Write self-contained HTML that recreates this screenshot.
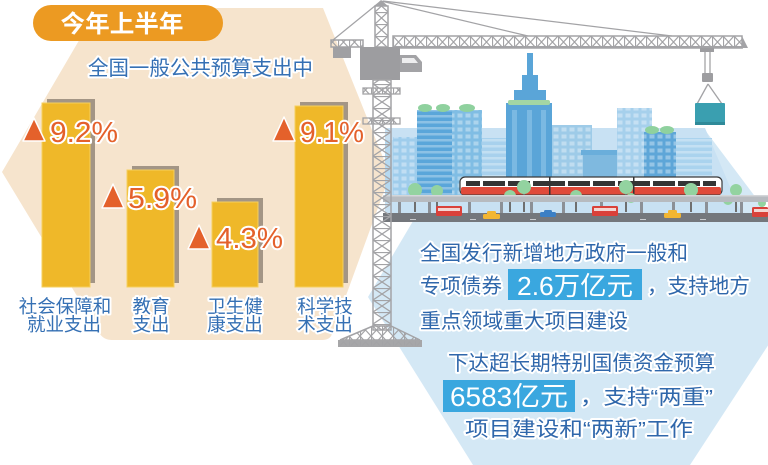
<!DOCTYPE html>
<html><head><meta charset="utf-8"><style>
html,body{margin:0;padding:0;background:#fff;}
svg{display:block}
.cn{font-family:"Liberation Sans","Noto Sans CJK SC",sans-serif;}
.num{font-family:"Liberation Sans","Noto Sans CJK SC",sans-serif;}
.halo{paint-order:stroke;stroke:#fff;stroke-width:4;stroke-linejoin:round;}
</style></head><body>
<svg width="768" height="465" viewBox="0 0 768 465" xmlns="http://www.w3.org/2000/svg">
<defs>
<pattern id="xm" width="18" height="12" patternUnits="userSpaceOnUse" x="373" y="0">
 <path d="M0 0 L18 12 M18 0 L0 12 M0 0.5 H18" stroke="#a3a3a6" stroke-width="1.3" fill="none"/>
</pattern>
<pattern id="xm2" width="13" height="12" patternUnits="userSpaceOnUse" x="375" y="0">
 <path d="M0 0 L13 12 M13 0 L0 12 M0 0.5 H13" stroke="#a3a3a6" stroke-width="1.2" fill="none"/>
</pattern>
<pattern id="xj" width="11" height="12" patternUnits="userSpaceOnUse" x="393" y="36">
 <path d="M0 0 L11 12 M11 0 L0 12 M0.5 0 V12" stroke="#a3a3a6" stroke-width="1.2" fill="none"/>
</pattern>
<pattern id="win" width="8" height="7" patternUnits="userSpaceOnUse">
 <rect x="1.5" y="1.5" width="5" height="4" fill="#ffffff" fill-opacity="0.35"/>
</pattern>
<pattern id="strip" width="6" height="6" patternUnits="userSpaceOnUse">
 <rect x="0" y="1" width="6" height="2.5" fill="#ffffff" fill-opacity="0.3"/>
</pattern>
</defs>

<!-- right blue hexagon -->
<polygon points="467,130 705,130 814,275 690,465 473,465 368,297" fill="#d4e8f5"/>
<!-- city pale backdrop -->
<polygon points="385,128 705,128 745,222 385,222" fill="#c8e1f3"/>

<!-- left beige hexagon -->
<path d="M98,8 L323,8 L390,175 L332,334 Q330,340 322,340 L112,340 Q104,340 100,334 L2,172 Z" fill="#f6e4cd"/>

<!-- pill -->
<rect x="33" y="5" width="190" height="36" rx="18" fill="#ec9a22"/>
<text x="122" y="32" text-anchor="middle" class="cn" font-size="24" font-weight="700" fill="#fff" textLength="123" lengthAdjust="spacingAndGlyphs">今年上半年</text>

<!-- subtitle -->
<text x="88" y="75" class="cn halo" font-size="20.5" fill="#3570b4" textLength="225" lengthAdjust="spacingAndGlyphs">全国一般公共预算支出中</text>

<!-- bars: shadows -->
<g fill="#a39585">
<rect x="47" y="99" width="48" height="184"/>
<rect x="132" y="166" width="47" height="117"/>
<rect x="217" y="198" width="46" height="85"/>
<rect x="300" y="102" width="48" height="181"/>
</g>
<g fill="#efb829" stroke="#f6cf5e" stroke-width="1">
<rect x="42" y="103" width="48" height="184"/>
<rect x="127" y="170" width="47" height="117"/>
<rect x="212" y="202" width="46" height="85"/>
<rect x="295" y="106" width="48" height="181"/>
</g>

<!-- triangles -->
<g fill="#e4612b" stroke="#fff" stroke-width="1.5" stroke-linejoin="round">
<polygon points="23,141 45,141 34,118"/>
<polygon points="102,208 124,208 113,184"/>
<polygon points="188,249 210,249 199,225"/>
<polygon points="273,141 295,141 284,117"/>
</g>
<g class="num halo" font-size="29" fill="#e4612b">
<text x="50" y="142" textLength="68" lengthAdjust="spacingAndGlyphs">9.2%</text>
<text x="128" y="208" textLength="69" lengthAdjust="spacingAndGlyphs">5.9%</text>
<text x="216" y="248" textLength="67" lengthAdjust="spacingAndGlyphs">4.3%</text>
<text x="300" y="142" textLength="64" lengthAdjust="spacingAndGlyphs">9.1%</text>
</g>

<!-- category labels -->
<g class="cn halo" font-size="18.5" fill="#3570b4" text-anchor="middle">
<text x="65" y="313">社会保障和</text>
<text x="64" y="331">就业支出</text>
<text x="151" y="313">教育</text>
<text x="151" y="331">支出</text>
<text x="235" y="313">卫生健</text>
<text x="235" y="331">康支出</text>
<text x="325" y="313">科学技</text>
<text x="325" y="331">术支出</text>
</g>

<!-- city buildings -->
<rect x="385" y="140" width="10" height="60" fill="#b6d9f0"/>
<rect x="393" y="137" width="26" height="63" fill="#9fcdec"/>
<rect x="393" y="137" width="26" height="63" fill="url(#win)"/>
<rect x="417" y="110" width="35" height="90" fill="#5aa6da"/>
<rect x="417" y="110" width="35" height="90" fill="url(#strip)"/>
<ellipse cx="425" cy="108" rx="7" ry="4" fill="#8fd19e"/>
<ellipse cx="443" cy="108" rx="7" ry="4" fill="#8fd19e"/>
<rect x="452" y="110" width="30" height="90" fill="#80bde4"/>
<rect x="452" y="110" width="30" height="90" fill="url(#win)"/>
<ellipse cx="467" cy="108" rx="8" ry="4" fill="#8fd19e"/>
<rect x="482" y="138" width="25" height="62" fill="#a8d1ed"/>
<rect x="482" y="138" width="25" height="62" fill="url(#strip)"/>
<rect x="527" y="53" width="6" height="23" fill="#5aa5d8"/>
<rect x="522" y="75" width="16" height="16" fill="#5aa5d8"/>
<rect x="514" y="90" width="32" height="13" fill="#5aa5d8"/>
<rect x="506" y="103" width="46" height="97" fill="#5aa5d8"/>
<rect x="512" y="110" width="5" height="90" fill="#7bb9e2"/>
<rect x="527" y="110" width="5" height="90" fill="#7bb9e2"/>
<rect x="541" y="110" width="5" height="90" fill="#7bb9e2"/>
<rect x="508" y="100" width="42" height="5" rx="2" fill="#a3d6a4"/>
<rect x="552" y="125" width="40" height="75" fill="#9ecbe8"/>
<rect x="552" y="125" width="40" height="75" fill="url(#win)"/>
<rect x="583" y="152" width="38" height="48" fill="#7fb9df"/>
<rect x="581" y="150" width="42" height="5" fill="#6aaedb"/>
<rect x="617" y="108" width="35" height="92" fill="#a6d0ec"/>
<rect x="617" y="108" width="35" height="92" fill="url(#win)"/>
<rect x="644" y="132" width="32" height="68" fill="#5ea6d8"/>
<rect x="644" y="132" width="32" height="68" fill="url(#win)"/>
<ellipse cx="652" cy="130" rx="7" ry="4" fill="#8fd19e"/>
<ellipse cx="667" cy="130" rx="7" ry="4" fill="#8fd19e"/>
<rect x="676" y="138" width="36" height="62" fill="#aad3ee"/>
<rect x="676" y="138" width="36" height="62" fill="url(#strip)"/>

<!-- train -->
<rect x="460" y="177" width="262" height="18" rx="5" fill="#ffffff" stroke="#3a3a3a" stroke-width="1.2"/>
<rect x="466" y="181" width="250" height="5" fill="#353535"/>
<g fill="#fff">
<rect x="480" y="181" width="3" height="5"/><rect x="505" y="181" width="3" height="5"/><rect x="530" y="181" width="3" height="5"/>
<rect x="565" y="181" width="3" height="5"/><rect x="590" y="181" width="3" height="5"/><rect x="615" y="181" width="3" height="5"/>
<rect x="650" y="181" width="3" height="5"/><rect x="675" y="181" width="3" height="5"/><rect x="700" y="181" width="3" height="5"/>
</g>
<rect x="461" y="187" width="260" height="7.5" rx="2" fill="#e04a3a"/>
<rect x="549" y="177" width="1.5" height="18" fill="#333"/>
<rect x="633" y="177" width="1.5" height="18" fill="#333"/>

<!-- trees -->
<g fill="#6f6f6f">
<rect x="414" y="192" width="2" height="20"/><rect x="436" y="192" width="2" height="20"/>
<rect x="509" y="195" width="2" height="17"/><rect x="523" y="190" width="2" height="22"/>
<rect x="575" y="196" width="2" height="16"/><rect x="625" y="190" width="2" height="22"/>
<rect x="690" y="192" width="2" height="20"/><rect x="735" y="192" width="2" height="20"/>
</g>
<g fill="#93d3a0">
<circle cx="415" cy="190" r="7"/><circle cx="437" cy="191" r="6"/>
<circle cx="510" cy="196" r="6"/><circle cx="524" cy="187" r="7"/>
<circle cx="576" cy="196" r="6"/><circle cx="626" cy="187" r="7"/><circle cx="631" cy="198" r="5"/>
<circle cx="691" cy="190" r="7"/><circle cx="736" cy="190" r="6"/><circle cx="728" cy="200" r="5"/><circle cx="762" cy="203" r="4"/>
</g>

<!-- deck & road -->
<rect x="383" y="195" width="385" height="7" fill="#b7bbc0"/>
<rect x="383" y="195" width="385" height="1.5" fill="#d3d6d9"/>
<g fill="#8c9096">
<rect x="398" y="202" width="3" height="11"/><rect x="428" y="202" width="3" height="11"/><rect x="468" y="202" width="3" height="11"/>
<rect x="500" y="202" width="3" height="11"/><rect x="530" y="202" width="3" height="11"/><rect x="562" y="202" width="3" height="11"/>
<rect x="600" y="202" width="3" height="11"/><rect x="640" y="202" width="3" height="11"/><rect x="672" y="202" width="3" height="11"/>
<rect x="705" y="202" width="3" height="11"/><rect x="740" y="202" width="3" height="11"/>
</g>
<rect x="383" y="213" width="385" height="9" fill="#74777c"/>
<g fill="#c9cbcf"><rect x="410" y="219" width="6" height="1"/><rect x="470" y="219" width="6" height="1"/><rect x="530" y="219" width="6" height="1"/><rect x="640" y="219" width="6" height="1"/><rect x="700" y="219" width="6" height="1"/></g>

<!-- vehicles -->
<g>
<rect x="436" y="206" width="26" height="10" rx="1.5" fill="#d9413a"/><rect x="438" y="208" width="22" height="3" fill="#f3d6d3"/>
<rect x="592" y="206" width="26" height="10" rx="1.5" fill="#d9413a"/><rect x="594" y="208" width="22" height="3" fill="#f3d6d3"/>
<rect x="752" y="207" width="16" height="10" rx="1.5" fill="#d9413a"/><rect x="754" y="209" width="14" height="3" fill="#f3d6d3"/>
<rect x="487" y="211" width="9" height="4" rx="1.5" fill="#f2b632"/><rect x="483" y="214" width="17" height="5" rx="1.5" fill="#f2b632"/>
<rect x="668" y="210" width="9" height="4" rx="1.5" fill="#f2b632"/><rect x="664" y="213" width="17" height="5" rx="1.5" fill="#f2b632"/>
<rect x="544" y="210" width="8" height="3" rx="1.5" fill="#3b7fc4"/><rect x="540" y="212" width="16" height="5" rx="1.5" fill="#3b7fc4"/>
</g>

<!-- crane -->
<g stroke="#a3a3a6" stroke-width="1.2" fill="none">
<line x1="381" y1="1" x2="333" y2="40"/>
<line x1="381" y1="1" x2="528" y2="36"/>
<line x1="383" y1="1" x2="672" y2="36"/>
</g>
<rect x="375" y="6" width="13" height="41" fill="url(#xm2)" stroke="#a3a3a6" stroke-width="1.5"/>
<polygon points="375,6 381,0 388,6" fill="#a3a3a6"/>
<rect x="331" y="40" width="32" height="7" fill="url(#xj)" stroke="#a3a3a6" stroke-width="1.5"/>
<rect x="333" y="47" width="18" height="11" fill="#a0a0a3"/>
<rect x="393" y="36" width="349" height="12" fill="url(#xj)" stroke="#a3a3a6" stroke-width="1.5"/>
<rect x="393" y="46" width="350" height="2.5" fill="#a3a3a6"/>
<polygon points="742,36 748,48 742,48" fill="#a3a3a6"/>
<rect x="360" y="47" width="40" height="33" fill="#9d9da0"/>
<path d="M400,55 L416,55 L422,62 L422,72 L400,72 Z" fill="#a3a3a6"/>
<path d="M402,58 L414,58 L418,63 L402,63 Z" fill="#eeeeef"/>
<rect x="700" y="48" width="14" height="4" fill="#9d9da0"/>
<g stroke="#a3a3a6" stroke-width="1.3">
<line x1="705" y1="52" x2="705" y2="75"/><line x1="710" y1="52" x2="710" y2="75"/>
<line x1="708" y1="84" x2="697" y2="104"/><line x1="708" y1="84" x2="722" y2="104"/>
</g>
<rect x="702" y="73" width="11" height="9" rx="1" fill="#9d9da0"/>
<rect x="695" y="103" width="30" height="22" rx="1" fill="#3a9fb0"/>
<rect x="695" y="122" width="30" height="3" fill="#2f8a99"/>
<rect x="373" y="80" width="18" height="250" fill="url(#xm)" stroke="#a3a3a6" stroke-width="1.5"/>
<rect x="363" y="88" width="37" height="6" fill="url(#xj)" stroke="#a3a3a6" stroke-width="1.3"/>
<rect x="363" y="118" width="37" height="6" fill="url(#xj)" stroke="#a3a3a6" stroke-width="1.3"/>
<path d="M373,326 L340,340 L420,340 L391,326 Z" fill="url(#xj)" stroke="#a3a3a6" stroke-width="1.5"/>
<rect x="338" y="340" width="84" height="7" fill="#a6a6a8"/>
<rect x="340" y="341.5" width="80" height="4" fill="url(#xj)"/>

<!-- right texts -->
<g class="cn halo" font-size="20.6" fill="#2f67ab">
<text x="420" y="260" textLength="268" lengthAdjust="spacingAndGlyphs">全国发行新增地方政府一般和</text>
<text x="420" y="293" textLength="82" lengthAdjust="spacingAndGlyphs">专项债券</text>
<text x="647" y="293" textLength="103" lengthAdjust="spacingAndGlyphs">，支持地方</text>
<text x="420" y="328" textLength="208" lengthAdjust="spacingAndGlyphs">重点领域重大项目建设</text>
<text x="448" y="370" textLength="267" lengthAdjust="spacingAndGlyphs">下达超长期特别国债资金预算</text>
<text x="580" y="404" textLength="133" lengthAdjust="spacingAndGlyphs">，支持“两重”</text>
<text x="465" y="436" textLength="228" lengthAdjust="spacingAndGlyphs">项目建设和“两新”工作</text>
</g>
<rect x="508" y="269" width="134" height="31" fill="#3aa7df"/>
<text x="517" y="295" class="cn" font-size="26" fill="#fff" textLength="116" lengthAdjust="spacingAndGlyphs">2.6万亿元</text>
<rect x="443" y="380" width="132" height="32" fill="#3aa7df"/>
<text x="450" y="406" class="cn" font-size="27" fill="#fff" textLength="118" lengthAdjust="spacingAndGlyphs">6583亿元</text>
</svg>
</body></html>
